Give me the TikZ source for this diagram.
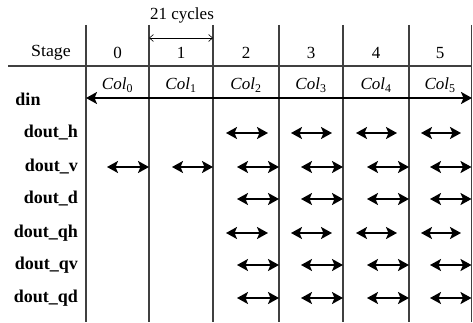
\documentclass[tikz,border=0pt]{standalone}
\usepackage{fontspec}
\setmainfont{Liberation Serif}
\usetikzlibrary{arrows.meta}
\tikzset{
  grid/.style={line width=1.4pt, draw=black!75},
  lbl/.style={font=\fontsize{17}{18}\selectfont, inner sep=0pt},
  rowlbl/.style={font=\fontsize{18}{19}\selectfont\bfseries, inner sep=0pt, anchor=east},
  dbl/.style={line width=1.8pt, {Stealth[length=11pt,width=12pt,inset=2.5pt]}-{Stealth[length=11pt,width=12pt,inset=2.5pt]}},
  thin arrow/.style={line width=0.6pt, {Straight Barb[length=4pt,width=7pt]}-{Straight Barb[length=4pt,width=7pt]}}
}
\begin{document}
\begin{tikzpicture}[x=1pt,y=-1pt]
\useasboundingbox (0,0) rectangle (473,323);
% vertical lines
\foreach \x/\n in {86/v0,149/v1,213/v2,279/v3,343/v4,409/v5,471.5/v6} {
  \coordinate (\n t) at (\x,25);
  \coordinate (\n b) at (\x,322);
  \draw[grid] (\n t) -- (\n b);
}
% horizontal line
\coordinate (hl) at (8,66);
\coordinate (hr) at (472,66);
\draw[grid] (hl) -- (hr);
% header
\node[lbl] (stage) at (51,53) {\scalebox{1.05}[1]{Stage}};
\foreach \x/\t/\n in {117.5/0/s0,181/1/s1,246/2/s2,311/3/s3,376/4/s4,440/5/s5} {
  \node[lbl] (\n) at (\x,53) {\t};
}
\node[lbl] (cyc) at (182,15) {21 cycles};
\coordinate (ca) at (149,38);
\coordinate (cb) at (213,38);
\draw[thin arrow] (ca) -- (cb);
% Col labels
\foreach \x/\t/\n in {117.5/0/c0,181/1/c1,246/2/c2,311/3/c3,376/4/c4,440/5/c5} {
  \node[lbl] (\n) at (\x,85) {\itshape Col$_{\mathrm{\t}}$};
}
% din
\node[rowlbl, anchor=center] (din) at (28,99) {din};
\coordinate (dinL) at (86,98);
\coordinate (dinR) at (472,98);
\draw[dbl] (dinL) -- (dinR);
% row labels
\foreach \y/\t/\n in {133/dout\_h/rh,167/dout\_v/rv,199/dout\_d/rd,233/dout\_qh/rqh,265/dout\_qv/rqv,298/dout\_qd/rqd} {
  \node[rowlbl] (\n) at (78,\y) {\t};
}
% arrows: h-type (centered in column)
\foreach \y in {133,233} {
  \foreach \a/\b in {226/268,291/332,356/397,421/461} {
    \coordinate (p) at (\a,\y); \coordinate (q) at (\b,\y);
    \draw[dbl] (p) -- (q);
  }
}
% v-type (ending at right boundary)
\foreach \y in {167,199,265,298} {
  \foreach \a/\b in {237/279,301/343,367/409,430/471.5} {
    \coordinate (p) at (\a,\y); \coordinate (q) at (\b,\y);
    \draw[dbl] (p) -- (q);
  }
}
\foreach \a/\b in {107/149,172/213} {
  \coordinate (p) at (\a,167); \coordinate (q) at (\b,167);
  \draw[dbl] (p) -- (q);
}
\end{tikzpicture}
\end{document}
